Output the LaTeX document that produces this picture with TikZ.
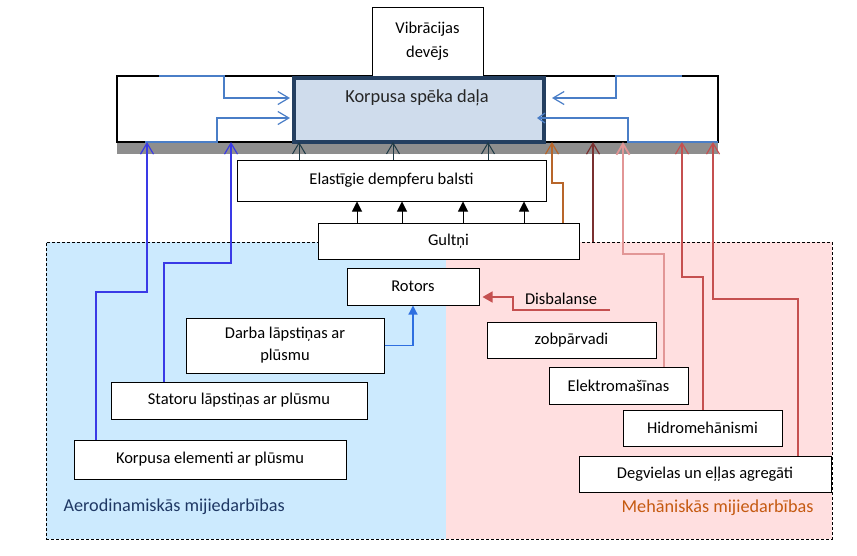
\documentclass[tikz,border=0pt]{standalone}
\usepackage{fontspec}
\setmainfont{Carlito}
\usetikzlibrary{arrows.meta}
\definecolor{aerofill}{HTML}{CCEAFE}
\definecolor{mechfill}{HTML}{FFDFE0}
\definecolor{korpfill}{HTML}{CFDCEC}
\definecolor{korpdraw}{HTML}{243F60}
\definecolor{bandgray}{HTML}{8E8E8E}
\definecolor{bandblue}{HTML}{3A3AE6}
\definecolor{innerblue}{HTML}{4A7EC7}
\definecolor{darkslate}{HTML}{1E3A46}
\definecolor{orangebr}{HTML}{B8662A}
\definecolor{darkred}{HTML}{7A3030}
\definecolor{redline}{HTML}{C55050}
\definecolor{lightred}{HTML}{E29696}
\definecolor{rotarrow}{HTML}{2E6FE0}
\definecolor{aerotext}{HTML}{1F3864}
\definecolor{mechtext}{HTML}{C55A11}
\begin{document}
\begin{tikzpicture}[x=1pt,y=-1pt,
  txt/.style={font=\fontsize{16.5}{22}\selectfont},
  box/.style={draw=black,line width=1pt,fill=white,inner sep=0pt,align=center,txt},
  region/.style={draw=none,inner sep=0pt},
  barb/.style={-{Straight Barb[length=11pt,width=13pt]}},
  bandarrow/.style={barb,draw=bandblue,line width=1.2pt},
  innerarrow/.style={barb,draw=innerblue,line width=1.2pt},
  slatearrow/.style={barb,draw=darkslate,line width=1pt},
  blackarrow/.style={-{Triangle[length=10pt,width=10pt]},draw=black,line width=1pt},
]
\useasboundingbox (0,0) rectangle (857,555);
% regions
\node[region,fill=aerofill,minimum width=400pt,minimum height=297pt] (aero) at (246,390.5) {};
\node[region,fill=mechfill,minimum width=386pt,minimum height=297pt] (mech) at (639,390.5) {};
\node[draw=black,line width=1pt,dash pattern=on 3pt off 2pt,inner sep=0pt,minimum width=786pt,minimum height=297pt] (mij) at (439,390.5) {};
\node[txt,anchor=base west,text=aerotext,font=\fontsize{18.2}{22}\selectfont] (aerolbl) at (60,511) {Aerodinamiskās mijiedarbības};
\node[txt,anchor=base east,text=mechtext,font=\fontsize{18.2}{22}\selectfont] (mechlbl) at (817,512) {Mehāniskās mijiedarbības};
% housing
\node[region,fill=bandgray,minimum width=601pt,minimum height=12pt] (band) at (417.5,148) {};
\node[draw=black,line width=1.2pt,fill=white,inner sep=0pt,minimum width=601pt,minimum height=66pt] (housing) at (417.5,109) {};
\node[box,minimum width=111pt,minimum height=69pt,font=\fontsize{16.5}{24}\selectfont] (vib) at (427.5,41.5) {Vibrācijas\\devējs};
\node[draw=korpdraw,line width=4pt,fill=korpfill,inner sep=0pt,minimum width=250pt,minimum height=64pt] (korpus) at (419,110) {};
\node[anchor=base,font=\fontsize{18.4}{22}\selectfont,text=black!85] (korptxt) at (417,102) {Korpusa spēka daļa};
% boxes
\node[box,minimum width=309pt,minimum height=41pt] (elast) at (391.5,180.5) {Elastīgie dempferu balsti};
\node[box,minimum width=261pt,minimum height=36pt] (gultni) at (448.5,241) {Gultņi};
\node[box,minimum width=132pt,minimum height=37pt] (rotors) at (413,286.5) {Rotors};
\node[box,minimum width=198pt,minimum height=55pt] (darba) at (285,345.5) {Darba lāpstiņas ar\\plūsmu};
\node[box,minimum width=256pt,minimum height=37pt] (statoru) at (239,400.5) {Statoru lāpstiņas ar plūsmu};
\node[box,minimum width=272pt,minimum height=39pt] (korpel) at (210,459.5) {Korpusa elementi ar plūsmu};
\node[box,minimum width=169pt,minimum height=36pt] (zob) at (571.5,340) {zobpārvadi};
\node[box,minimum width=139pt,minimum height=37pt] (elektro) at (618.5,385.5) {Elektromašīnas};
\node[box,minimum width=159pt,minimum height=36pt] (hidro) at (702.5,428) {Hidromehānismi};
\node[box,minimum width=252pt,minimum height=36pt] (degv) at (705,474) {Degvielas un eļļas agregāti};
\node[txt,anchor=base] (disb) at (561,304) {Disbalanse};
% coordinates
\coordinate (t1) at (147,142);
\coordinate (t2) at (231,142);
\coordinate (k1) at (96,292);
\coordinate (s1) at (164,263);
\coordinate (u1) at (299,142);
\coordinate (u2) at (393,142);
\coordinate (u3) at (488,142);
\coordinate (b1) at (357,200);
\coordinate (b2) at (402,200);
\coordinate (b3) at (463,200);
\coordinate (b4) at (524,200);
\coordinate (o1) at (563,183);
\coordinate (t4) at (552,142);
\coordinate (t5) at (593,142);
\coordinate (e1) at (664,254);
\coordinate (t6) at (623,142);
\coordinate (h1) at (703,277);
\coordinate (t7) at (682,142);
\coordinate (g1) at (798,299);
\coordinate (t8) at (713,142);
\coordinate (i1) at (159,76);
\coordinate (i1m) at (224,98);
\coordinate (i2) at (145,142);
\coordinate (i2m) at (217,118);
\coordinate (i3) at (682,76);
\coordinate (i3m) at (616,98);
\coordinate (i4) at (718,142);
\coordinate (i4m) at (628,118);
\coordinate (db0) at (610,310);
\coordinate (dbm) at (513,297);
% inner blue arrows
\draw[innerarrow,shorten >=2pt] (i1) -| (i1m) -- (i1m -| korpus.west);
\draw[innerarrow,shorten >=2pt] (i2) -| (i2m) -- (i2m -| korpus.west);
\draw[innerarrow,shorten >=6pt] (i3) -| (i3m) -- (i3m -| korpus.east);
\draw[innerblue,line width=1.2pt,-{Straight Barb[length=7pt,width=10pt]},shorten >=-9pt] (i4) -| (i4m) -- (i4m -| korpus.east);
% aero connectors
\draw[bandarrow] (korpel.north -| k1) -- (k1) -| (t1);
\draw[bandarrow] (statoru.north -| s1) -- (s1) -| (t2);
\draw[draw=rotarrow,line width=1.2pt,-{Triangle[length=9pt,width=9pt]}] (darba.east) -| (rotors.south);
% damper arrows
\draw[slatearrow] (elast.north -| u1) -- (u1);
\draw[slatearrow] (elast.north -| u2) -- (u2);
\draw[slatearrow] (elast.north -| u3) -- (u3);
\draw[blackarrow] (gultni.north -| b1) -- (elast.south -| b1);
\draw[blackarrow] (gultni.north -| b2) -- (elast.south -| b2);
\draw[blackarrow] (gultni.north -| b3) -- (elast.south -| b3);
\draw[blackarrow] (gultni.north -| b4) -- (elast.south -| b4);
% mechanical connectors
\draw[barb,draw=orangebr,line width=1.2pt] (gultni.north -| o1) -- (o1) -| (t4);
\draw[barb,draw=darkred,line width=1.2pt] (mij.north -| t5) -- (t5);
\draw[barb,draw=lightred,line width=1.8pt] (elektro.north -| e1) -- (e1) -| (t6);
\draw[barb,draw=redline,line width=1.2pt] (hidro.north -| h1) -- (h1) -| (t7);
\draw[barb,draw=redline,line width=1.2pt] (degv.north -| g1) -- (g1) -| (t8);
\draw[draw=redline,line width=1.5pt,-{Triangle[length=10pt,width=11pt]},shorten >=3pt] (db0) -| (dbm) -- (dbm -| rotors.east);
\end{tikzpicture}
\end{document}
